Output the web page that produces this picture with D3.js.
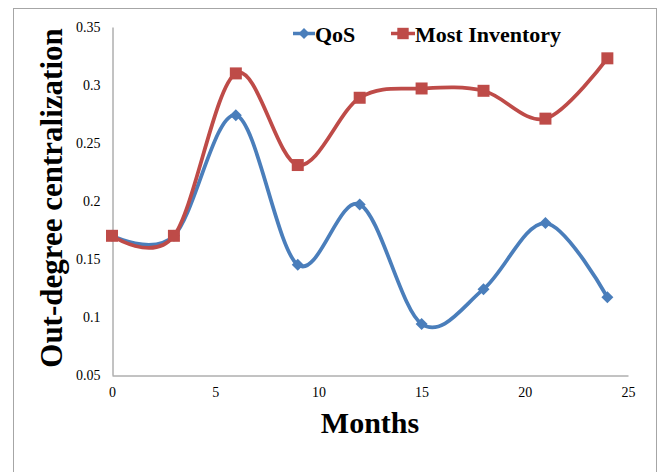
<!DOCTYPE html>
<html>
<head>
<meta charset="utf-8">
<script src="https://cdn.jsdelivr.net/npm/d3@7"></script>
<style>
  html, body { margin: 0; padding: 0; background: #fff; }
  svg { display: block; }
  text { font-family: "Liberation Serif", "Times New Roman", serif; }
</style>
</head>
<body>
<svg id="chart" width="661" height="472"></svg>
<script>
// Months sampled
const months = [0, 3, 6, 9, 12, 15, 18, 21, 24];
// Out-degree centralization per series
const qos = [0.17, 0.17, 0.274, 0.145, 0.197, 0.094, 0.124, 0.181, 0.117];
const mostInventory = [0.17, 0.17, 0.310, 0.231, 0.289, 0.297, 0.295, 0.271, 0.323];
// Axis ticks
const xTicks = [0, 5, 10, 15, 20, 25];
const yTicks = [0.05, 0.1, 0.15, 0.2, 0.25, 0.3, 0.35];
const seriesNames = ["QoS", "Most Inventory"];

const svg = d3.select("#chart");
const plot = { left: 112, right: 628, top: 27, bottom: 375 };

// Outer chart frame
svg.append("rect")
  .attr("x", 13.5).attr("y", 8.5)
  .attr("width", 643).attr("height", 480)
  .attr("fill", "none").attr("stroke", "#a6a6a6").attr("stroke-width", 1);

const x = d3.scaleLinear().domain([0, 25]).range([plot.left, plot.right]);
const y = d3.scaleLinear().domain([0.05, 0.35]).range([plot.bottom, plot.top]);

// Axes
const xAxis = svg.append("g")
  .attr("transform", `translate(0,${plot.bottom + 0.5})`)
  .call(d3.axisBottom(x).tickValues(xTicks).tickSize(0).tickPadding(12).tickFormat(d3.format("d")));
const yAxis = svg.append("g")
  .attr("transform", `translate(${plot.left + 0.5},0)`)
  .call(d3.axisLeft(y).tickValues(yTicks).tickSize(0).tickPadding(12).tickFormat(d => String(+d.toFixed(2))));
[xAxis, yAxis].forEach(g => {
  g.select(".domain").attr("stroke", "#868686").attr("stroke-width", 1);
  g.selectAll("text").attr("font-size", 14).attr("fill", "#000")
    .attr("font-family", "'Liberation Serif', serif");
});

// Axis titles
svg.append("text")
  .attr("x", 370).attr("y", 433)
  .attr("text-anchor", "middle")
  .attr("font-size", 30).attr("font-weight", "bold")
  .text("Months");
svg.append("text")
  .attr("transform", "translate(62,198) rotate(-90)")
  .attr("text-anchor", "middle")
  .attr("font-size", 31).attr("font-weight", "bold")
  .text("Out-degree centralization");

// Excel-style diamond: a square turned 45 degrees
const diamond = {
  draw(context, size) {
    const r = Math.sqrt(size / 2);
    context.moveTo(0, -r);
    context.lineTo(r, 0);
    context.lineTo(0, r);
    context.lineTo(-r, 0);
    context.closePath();
  }
};

// Series
const series = [
  { name: seriesNames[0], values: qos, color: "#4A7EBB", marker: diamond, size: 72 },
  { name: seriesNames[1], values: mostInventory, color: "#BE4B48", marker: d3.symbolSquare, size: 144 }
];

const line = d3.line()
  .x(d => x(d[0]))
  .y(d => y(d[1]))
  .curve(d3.curveCardinal.tension(0));

// Draw QoS first, then Most Inventory on top
series.forEach(s => {
  const pts = months.map((m, i) => [m, s.values[i]]);
  svg.append("path")
    .datum(pts)
    .attr("d", line)
    .attr("fill", "none")
    .attr("stroke", s.color)
    .attr("stroke-width", 3.75)
    .attr("stroke-linejoin", "round");
  svg.append("g").selectAll("path")
    .data(pts)
    .join("path")
    .attr("transform", d => `translate(${x(d[0])},${y(d[1])})`)
    .attr("d", d3.symbol().type(s.marker).size(s.size))
    .attr("fill", s.color);
});

// Legend
const legendItems = [
  { s: series[0], x0: 293, tx: 315, msize: 60 },
  { s: series[1], x0: 391, tx: 415, msize: 130 }
];
legendItems.forEach(it => {
  const g = svg.append("g");
  g.append("line")
    .attr("x1", it.x0).attr("x2", it.tx)
    .attr("y1", 33.5).attr("y2", 33.5)
    .attr("stroke", it.s.color).attr("stroke-width", 3.5);
  g.append("path")
    .attr("transform", `translate(${(it.x0 + it.tx) / 2},33.5)`)
    .attr("d", d3.symbol().type(it.s.marker).size(it.msize))
    .attr("fill", it.s.color);
  g.append("text")
    .attr("x", it.tx).attr("y", 42)
    .attr("font-size", 22).attr("font-weight", "bold")
    .text(it.s.name);
});
</script>
</body>
</html>
